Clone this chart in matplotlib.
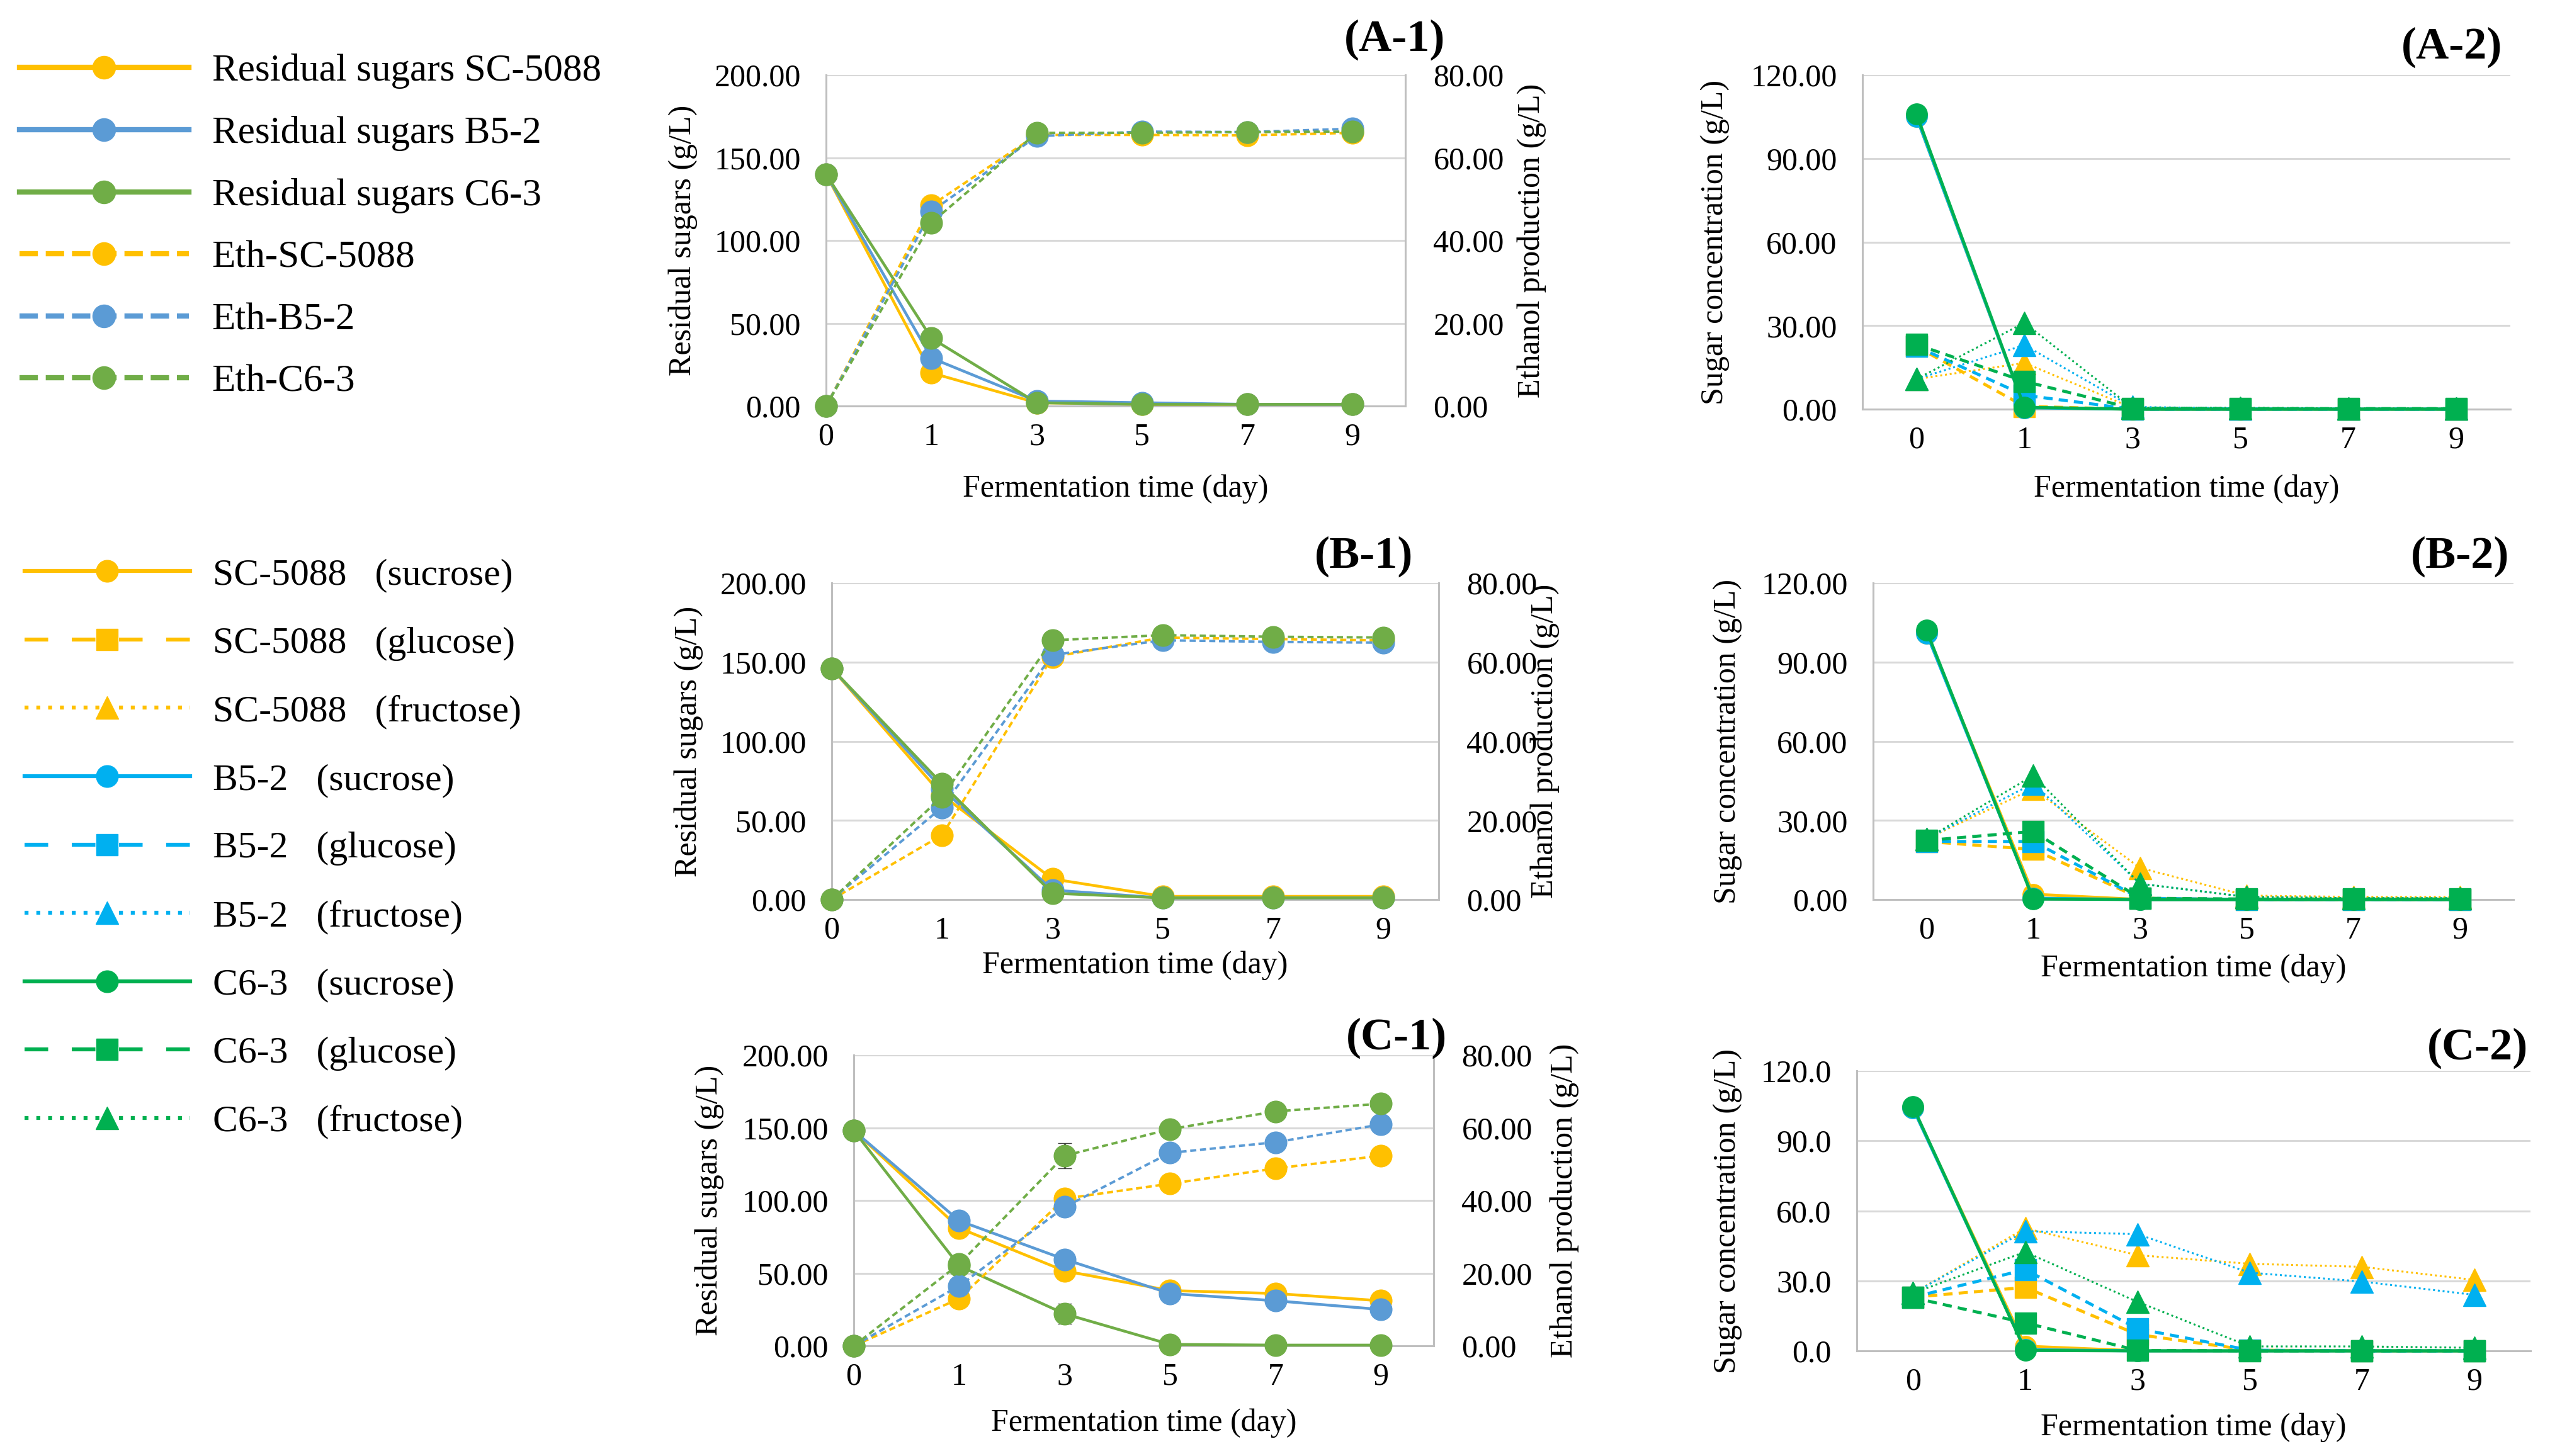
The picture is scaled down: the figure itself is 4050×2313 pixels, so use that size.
import matplotlib
matplotlib.use("Agg")
import matplotlib.pyplot as plt
import numpy as np
from matplotlib.lines import Line2D
from matplotlib.ticker import FormatStrFormatter

plt.rcParams["font.family"] = ["Liberation Serif", "DejaVu Serif"]

# canvas size in pixels
W, H = 4050, 2313
DPI = 100

# ---- data ---------------------------------------------------------------
days = ["0", "1", "3", "5", "7", "9"]
strains = ["SC-5088", "B5-2", "C6-3"]

# residual sugars (g/L), rows follow `strains`
res_A = [[140, 20, 2, 1, 1, 1], [140, 29, 3, 2, 1, 1], [140, 41, 2, 1, 1, 1]]
res_B = [[146, 66, 13, 2, 2, 2], [146, 70, 6, 1, 1, 1], [146, 73, 4, 1, 1, 1]]
res_C = [[148, 81, 51.5, 38, 36, 31], [148, 86, 59.5, 36, 31, 25],
         [148, 55, 22, 1, 0.5, 0.5]]

# ethanol production (g/L)
eth_A = [[0, 48.5, 65.5, 65.5, 65.4, 66.0], [0, 47.0, 65.2, 66.3, 66.2, 67.0],
         [0, 44.3, 66.0, 66.0, 66.2, 66.3]]
eth_B = [[0, 16.3, 61.3, 66.2, 65.8, 65.5], [0, 23.3, 61.8, 65.5, 65.1, 64.9],
         [0, 26.0, 65.5, 66.8, 66.4, 66.2]]
eth_C = [[0, 13.0, 40.5, 44.6, 48.8, 52.3], [0, 16.5, 38.2, 53.1, 56.0, 60.9],
         [0, 22.5, 52.3, 59.6, 64.5, 66.6]]

# error bars shown in C-1 (C6-3, day 3)
err_res_C = [0, 0, 7, 0, 0, 0]
err_eth_C = [0, 0, 3.5, 0, 0, 0]

# sugar concentration (g/L)
suc_A = [[105, 0.5, 0, 0, 0, 0], [105, 0.5, 0, 0, 0, 0], [106, 0.7, 0, 0, 0, 0]]
glu_A = [[22.5, 1, 0, 0, 0, 0], [22.5, 5, 0, 0, 0, 0], [23.2, 10, 0.3, 0.2, 0.2, 0.2]]
fru_A = [[10.8, 16.6, 0.5, 0.3, 0.2, 0.2], [10.8, 23, 0.8, 0.3, 0.2, 0.2],
         [10.8, 31, 0.5, 0.5, 0.3, 0.3]]

suc_B = [[101, 2, 0, 0, 0, 0], [101, 0.5, 0, 0, 0, 0], [102, 0.2, 0, 0, 0, 0]]
glu_B = [[22, 19, 0.5, 0, 0, 0], [22, 22, 0.5, 0, 0, 0], [22.4, 25.8, 0.5, 0.2, 0.2, 0.2]]
fru_B = [[23, 42, 12, 1.5, 1, 1], [23, 44, 6, 1, 0.5, 0.5], [23, 47, 6, 1, 0.5, 0.5]]

suc_C = [[104, 2, 0, 0, 0, 0], [104, 0.5, 0, 0, 0, 0], [104.7, 0.2, 0, 0, 0, 0]]
glu_C = [[23, 27.2, 7, 0.3, 0, 0], [23, 34.8, 9.5, 0.3, 0, 0], [22.8, 12, 0.2, 0, 0, 0]]
fru_C = [[24.7, 52.5, 41, 37.3, 36, 30.4], [24.7, 51.3, 50, 33.5, 29.7, 24],
         [24.7, 42.4, 21, 1.9, 1.9, 1.3]]

# ---- style --------------------------------------------------------------
LEFT_COLORS = ["#FFC000", "#5B9BD5", "#70AD47"]
RIGHT_COLORS = ["#FFC000", "#00B0F0", "#00B050"]
GRID = "#D9D9D9"
AXLINE = "#BFBFBF"
TICK_FS = 36
LABEL_FS = 36
TITLE_FS = 52

x = np.arange(len(days))

fig = plt.figure(figsize=(W / DPI, H / DPI), dpi=DPI)


def fx(px):
    return px / W


def fy(py):
    return 1 - py / H


def px_rect(left, right, top, bottom):
    return [fx(left), fy(bottom), (right - left) / W, (bottom - top) / H]


def base_axis(ax, ymax, step, fmt, xlab_y, ylab_x, ylabel):
    ax.set_ylim(0, ymax)
    ax.set_yticks(np.arange(0, ymax + step / 2, step))
    ax.yaxis.set_major_formatter(FormatStrFormatter(fmt))
    ax.set_xticks(x)
    ax.set_xticklabels(days)
    ax.tick_params(length=0, labelsize=TICK_FS)
    ax.tick_params(axis="x", pad=19)
    ax.tick_params(axis="y", pad=29)
    ax.grid(axis="y", color=GRID, lw=2.2)
    ax.set_axisbelow(True)
    for s in ["top", "right"]:
        ax.spines[s].set_visible(False)
    for s in ["left", "bottom"]:
        ax.spines[s].set_color(AXLINE)
        ax.spines[s].set_linewidth(2.2)
    bb = ax.get_position()
    ax.set_xlabel("Fermentation time (day)", fontsize=LABEL_FS)
    ax.xaxis.set_label_coords((bb.x0 + bb.x1) / 2, fy(xlab_y),
                              transform=fig.transFigure)
    ax.xaxis.label.set_va("center")
    ax.set_ylabel(ylabel, fontsize=LABEL_FS)
    ax.yaxis.set_label_coords(fx(ylab_x), (bb.y0 + bb.y1) / 2,
                              transform=fig.transFigure)
    ax.yaxis.label.set_va("center")


def ethanol_panel(rect, res, eth, xlab_y, ylab_x, yrlab_x, err_res=None, err_eth=None):
    ax = fig.add_axes(px_rect(*rect))
    base_axis(ax, 200, 50, "%.2f", xlab_y, ylab_x, "Residual sugars (g/L)")
    ax.set_xlim(0, 5.5)
    ax2 = ax.twinx()
    ax2.set_ylim(0, 80)
    ax2.set_yticks(np.arange(0, 81, 20))
    ax2.yaxis.set_major_formatter(FormatStrFormatter("%.2f"))
    ax2.tick_params(length=0, labelsize=TICK_FS, pad=32)
    for s in ["top", "left", "bottom"]:
        ax2.spines[s].set_visible(False)
    ax2.spines["right"].set_color(AXLINE)
    ax2.spines["right"].set_linewidth(2.2)
    bb = ax.get_position()
    ax2.set_ylabel("Ethanol production (g/L)", fontsize=LABEL_FS)
    ax2.yaxis.set_label_coords(fx(yrlab_x), (bb.y0 + bb.y1) / 2,
                               transform=fig.transFigure)
    ax2.yaxis.label.set_va("center")

    if err_res is not None:
        ax.errorbar(x, res[2], yerr=err_res, fmt="none", ecolor="#404040",
                    elinewidth=2, capsize=8, zorder=2)
    if err_eth is not None:
        ax2.errorbar(x, eth[2], yerr=err_eth, fmt="none", ecolor="#404040",
                     elinewidth=2, capsize=8, zorder=2)
    for i in range(len(strains)):
        ax.plot(x, res[i], color=LEFT_COLORS[i], lw=3.2, marker="o", ms=25,
                clip_on=False, zorder=3)
    for i in range(len(strains)):
        ax2.plot(x, eth[i], color=LEFT_COLORS[i], lw=2.8, ls=(0, (2.5, 1.5)),
                 marker="o", ms=25, clip_on=False, zorder=3)
    return ax


def sugar_panel(rect, suc, glu, fru, fmt, xlab_y, ylab_x):
    ax = fig.add_axes(px_rect(*rect))
    base_axis(ax, 120, 30, fmt, xlab_y, ylab_x, "Sugar concentration (g/L)")
    ax.set_xlim(-0.5, 5.5)
    for i in range(len(strains)):
        c = RIGHT_COLORS[i]
        ax.plot(x, suc[i], color=c, lw=3.5, marker="o", ms=24, clip_on=False, zorder=3)
        ax.plot(x, glu[i], color=c, lw=3.5, ls=(0, (3, 2)), marker="s", ms=24,
                clip_on=False, zorder=3)
        ax.plot(x, fru[i], color=c, lw=2.2, ls=(0, (1, 1.5)), marker="^", ms=26,
                clip_on=False, zorder=3)
    return ax


# panel rectangles: left, right, top, bottom in pixels
ethanol_panel((1312, 2232, 119, 645), res_A, eth_A, 777, 1085, 2433)
ethanol_panel((1321, 2285, 926, 1429), res_B, eth_B, 1534, 1094, 2454)
ethanol_panel((1356, 2277, 1676, 2138), res_C, eth_C, 2261, 1127, 2485,
              err_res_C, err_eth_C)

sugar_panel((2958, 3987, 119, 650), suc_A, glu_A, fru_A, "%.2f", 777, 2724)
sugar_panel((2975, 3992, 926, 1429), suc_B, glu_B, fru_B, "%.2f", 1539, 2744)
sugar_panel((2949, 4019, 1701, 2146), suc_C, glu_C, fru_C, "%.1f", 2268, 2744)

# panel tags
tags = [("(A-1)", 2215, 63), ("(B-1)", 2166, 884), ("(C-1)", 2218, 1649),
        ("(A-2)", 3894, 75), ("(B-2)", 3907, 884), ("(C-2)", 3935, 1665)]
for txt, tx, ty in tags:
    fig.text(fx(tx), fy(ty), txt, fontsize=TITLE_FS, fontweight="bold",
             ha="center", va="center")

# legend for ethanol panels
h1, l1 = [], []
for i, s in enumerate(strains):
    h1.append(Line2D([], [], color=LEFT_COLORS[i], lw=6, marker="o", ms=26))
    l1.append(f"Residual sugars {s}")
for i, s in enumerate(strains):
    h1.append(Line2D([], [], color=LEFT_COLORS[i], lw=6, ls=(0, (3.5, 1.5)),
                     marker="o", ms=26))
    l1.append(f"Eth-{s}")
fig.legend(h1, l1, loc="center left", bbox_to_anchor=(fx(31), fy(360)),
           frameon=False, fontsize=44, handlelength=4.4, handletextpad=0.6,
           labelspacing=0.70, borderpad=0, borderaxespad=0)

# legend for sugar panels
h2, l2 = [], []
for i, s in enumerate(strains):
    c = RIGHT_COLORS[i]
    h2.append(Line2D([], [], color=c, lw=4.5, marker="o", ms=25))
    l2.append(f"{s}   (sucrose)")
    h2.append(Line2D([], [], color=c, lw=4.5, ls=(0, (6, 6)), marker="s", ms=24))
    l2.append(f"{s}   (glucose)")
    h2.append(Line2D([], [], color=c, lw=4.5, ls=(0, (1, 2)), marker="^", ms=26))
    l2.append(f"{s}   (fructose)")
fig.legend(h2, l2, loc="center left", bbox_to_anchor=(fx(39), fy(1348)),
           frameon=False, fontsize=43, handlelength=4.4, handletextpad=0.6,
           labelspacing=0.90, borderpad=0, borderaxespad=0)

fig.savefig("out.png", dpi=DPI)
